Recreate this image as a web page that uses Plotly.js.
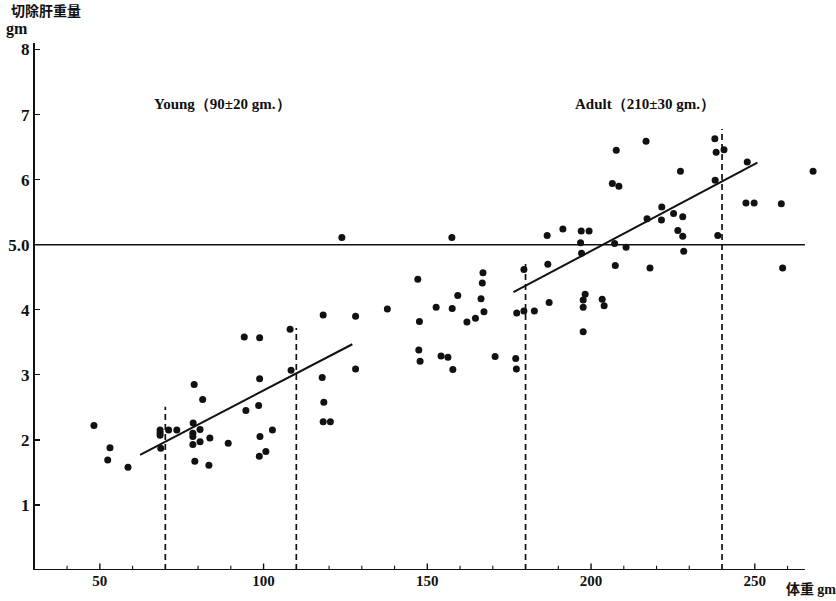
<!DOCTYPE html>
<html>
<head>
<meta charset="utf-8">
<script src="https://cdn.plot.ly/plotly-3.0.1.min.js"></script>
<style>html,body{margin:0;padding:0;background:#fff;}#chart{width:836px;height:601px;}</style>
</head>
<body>
<div id="chart"></div>
<script>
// Body weight (gm) of each animal
const bodyWeight = [
  48.2,53.1,52.4,58.6,68.4,68.4,68.4,71.0,73.5,68.6,78.8,81.4,78.5,78.4,78.4,80.6,80.6,78.4,83.6,79.0,83.3,89.2,94.1,98.8,94.6,98.8,98.5,98.9,102.7,98.7,100.7,108.1,108.4,118.2,117.9,118.4,118.2,120.4,
  123.9,157.5,186.6,128.1,137.8,128.1,147.1,147.6,147.4,147.8,152.7,159.3,157.6,167.0,166.8,166.4,167.3,162.1,164.7,154.2,156.3,157.8,170.7,177.0,177.2,177.3,179.5,182.7,179.5,186.8,187.2,
  216.8,237.8,207.7,238.2,240.6,247.7,227.3,267.8,237.9,206.5,208.5,247.3,249.8,258.1,221.6,217.1,221.5,225.2,228.0,226.5,228.0,238.7,191.4,197.0,199.4,196.8,207.2,210.7,197.1,228.3,207.4,218.0,258.5,198.2,197.6,203.4,197.6,204.0,197.6
];
// Resected liver weight (gm)
const liverWeight = [
  2.22,1.88,1.69,1.58,2.15,2.11,2.07,2.15,2.15,1.87,2.85,2.62,2.26,2.10,2.05,2.16,1.97,1.93,2.03,1.67,1.61,1.95,3.58,3.57,2.45,2.94,2.53,2.05,2.15,1.75,1.82,3.70,3.07,3.92,2.96,2.58,2.28,2.28,
  5.11,5.11,5.14,3.90,4.01,3.09,4.47,3.82,3.38,3.21,4.04,4.22,4.02,4.57,4.41,4.17,3.97,3.81,3.87,3.29,3.27,3.08,3.28,3.25,3.09,3.95,3.98,3.98,4.62,4.70,4.11,
  6.59,6.63,6.45,6.42,6.46,6.27,6.13,6.13,5.99,5.94,5.90,5.64,5.64,5.63,5.58,5.40,5.38,5.48,5.43,5.22,5.13,5.14,5.24,5.21,5.21,5.03,5.02,4.96,4.87,4.90,4.68,4.64,4.64,4.24,4.15,4.16,4.04,4.06,3.66
];
// Regression lines
const youngFitX = [62.3, 127.1];
const youngFitY = [1.77, 3.47];
const adultFitX = [176.3, 250.8];
const adultFitY = [4.27, 6.26];
// Reference line at 5.0 gm
const refLineX = [30.2, 265.3];
const refLineY = [5.0, 5.0];
// Drawn extent of the x axis line
const xAxisLineX = [30.2, 265.3];
const xAxisLineY = [0, 0];
// Group boundary dashed lines (Young 90±20, Adult 210±30)
const boundX = [70, 110, 180, 240];
const boundTop = [2.51, 3.72, 4.74, 6.78];
// Tick labels
const xTickVals = [50, 100, 150, 200, 250];
const xTickText = ['50', '100', '150', '200', '250'];
const xMinorVals = [40, 60, 80, 90, 120, 130, 140, 160, 170, 190, 210, 220, 230, 260];
const yTickVals = [1, 2, 3, 4, 5, 6, 7, 8];
const yTickText = ['1', '2', '3', '4', '5.0', '6', '7', '8'];
// Labels
const groupLabels = ['Young（90±20 gm.）', 'Adult（210±30 gm.）'];
const groupLabelX = [65.8, 194.5];
const groupLabelY = [7.17, 7.17];

const serif = 'Liberation Serif, Times New Roman, serif';
const cjk = 'Noto Sans CJK JP, Noto Sans CJK SC, sans-serif';

// inward tick segments built from the tick value lists
function tickSegs(vals, h) {
  const xs = [], ys = [];
  vals.forEach(v => { xs.push(v, v, null); ys.push(0, h, null); });
  return {xs, ys};
}
const majorSeg = tickSegs(xTickVals, 0.10);
const minorSeg = tickSegs(xMinorVals, 0.065);

const traces = [];
traces.push({x: xAxisLineX, y: xAxisLineY, mode: 'lines', line: {color: '#111', width: 2}, hoverinfo: 'skip', showlegend: false, cliponaxis: false});
traces.push({x: majorSeg.xs, y: majorSeg.ys, mode: 'lines', line: {color: '#111', width: 1.4}, hoverinfo: 'skip', showlegend: false, connectgaps: false});
traces.push({x: minorSeg.xs, y: minorSeg.ys, mode: 'lines', line: {color: '#111', width: 1.1}, hoverinfo: 'skip', showlegend: false, connectgaps: false});
traces.push({x: refLineX, y: refLineY, mode: 'lines', line: {color: '#111', width: 1.6}, hoverinfo: 'skip', showlegend: false, cliponaxis: false});
boundX.forEach((bx, i) => {
  traces.push({x: [bx, bx], y: [0, boundTop[i]], mode: 'lines', line: {color: '#111', width: 1.7, dash: '6px,4px'}, hoverinfo: 'skip', showlegend: false});
});
traces.push({x: youngFitX, y: youngFitY, mode: 'lines', line: {color: '#111', width: 2}, showlegend: false});
traces.push({x: adultFitX, y: adultFitY, mode: 'lines', line: {color: '#111', width: 2}, showlegend: false});
traces.push({x: bodyWeight, y: liverWeight, mode: 'markers', marker: {color: '#111', size: 7}, showlegend: false, cliponaxis: false});

const annotations = groupLabels.map((t, i) => ({
  text: t, x: groupLabelX[i], y: groupLabelY[i], xref: 'x', yref: 'y',
  xanchor: 'left', yanchor: 'middle', showarrow: false,
  font: {family: serif, size: 15, color: '#111', weight: 'bold'}
}));
annotations.push({text: '切除肝重量', xref: 'paper', yref: 'paper', x: -0.032, y: 1.062, xanchor: 'left', yanchor: 'middle', showarrow: false, borderpad: 0, font: {family: cjk, size: 14, color: '#111', weight: 'bold'}});
annotations.push({text: 'gm', xref: 'paper', yref: 'paper', x: -0.039, y: 1.026, xanchor: 'left', yanchor: 'middle', showarrow: false, borderpad: 0, font: {family: serif, size: 16, color: '#111', weight: 'bold'}});
annotations.push({text: '体重 <span style="font-family:Liberation Serif">gm</span>', xref: 'paper', yref: 'paper', x: 0.958, y: -0.034, xanchor: 'left', yanchor: 'middle', showarrow: false, font: {family: cjk, size: 14, color: '#111', weight: 'bold'}});

const layout = {
  width: 836, height: 601,
  margin: {l: 35, r: 19, t: 43, b: 31, pad: 0},
  paper_bgcolor: '#fff', plot_bgcolor: '#fff',
  showlegend: false,
  xaxis: {
    range: [30.2, 269], showgrid: false, zeroline: false,
    showline: false,
    ticks: '',
    tickvals: xTickVals, ticktext: xTickText,
    tickfont: {family: serif, size: 15, color: '#111', weight: 'bold'},
    automargin: false, fixedrange: true
  },
  yaxis: {
    range: [0, 8.1], showgrid: false, zeroline: false,
    showline: true, linecolor: '#111', linewidth: 2,
    ticks: 'inside', ticklen: 5, tickwidth: 1.3, tickcolor: '#111',
    tickvals: yTickVals, ticktext: yTickText,
    tickfont: {family: serif, size: 17, color: '#111', weight: 'bold'},
    automargin: false, fixedrange: true
  },
  annotations: annotations
};

Plotly.newPlot('chart', traces, layout, {displayModeBar: false, staticPlot: true});
</script>
</body>
</html>
